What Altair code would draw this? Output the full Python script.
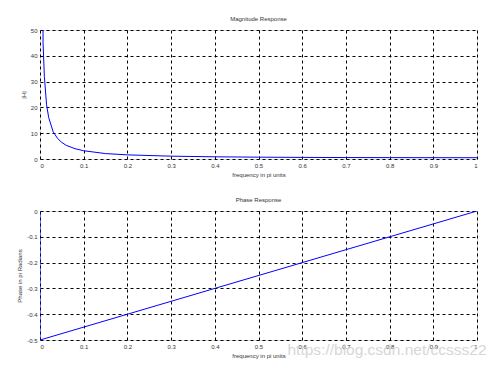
import altair as alt
import pandas as pd

# Magnitude response (frequency in pi units, |H|)
mag_freq = [0.007, 0.007, 0.01, 0.015, 0.02, 0.03, 0.04, 0.05, 0.06, 0.08, 0.1, 0.15,
            0.2, 0.3, 0.4, 0.5, 0.6, 0.7, 0.8, 0.9, 1.0]
mag_vals = [60, 45, 32, 21, 16, 10.6, 8.0, 6.4, 5.3, 4.0, 3.2, 2.1,
            1.6, 1.1, 0.85, 0.71, 0.62, 0.56, 0.53, 0.51, 0.5]

# Phase response (frequency in pi units, phase in pi radians)
phase_freq = [0.0, 0.0, 1.0]
phase_vals = [0.0, -0.5, 0.0]

x_ticks = [0, 0.1, 0.2, 0.3, 0.4, 0.5, 0.6, 0.7, 0.8, 0.9, 1]
mag_ticks = [0, 10, 20, 30, 40, 50]
phase_ticks = [0, -0.1, -0.2, -0.3, -0.4, -0.5]

watermark = "https://blog.csdn.net/ccsss22"

W, H = 437, 129
FONT = "Liberation Sans"
LBL = "replace(format(datum.value, '~g'), '\u2212', '-')"

def mk_axis(values, title, title_pad):
    return alt.Axis(values=values, grid=True, gridDash=[3, 3], gridColor="black",
                    gridOpacity=1, gridWidth=1, domain=False, ticks=False,
                    labelFontSize=6, labelColor="#333333", labelExpr=LBL,
                    labelPadding=3, labelFont=FONT,
                    title=title, titleFontSize=6, titleFontWeight="normal",
                    titleColor="#333333", titleFont=FONT, titlePadding=title_pad)

mag_df = pd.DataFrame({"f": mag_freq, "m": mag_vals})
ph_df = pd.DataFrame({"f": phase_freq, "p": phase_vals}).reset_index()

top = alt.Chart(mag_df).mark_line(color="#0000ff", strokeWidth=1, clip=True).encode(
    x=alt.X("f:Q", scale=alt.Scale(domain=[0, 1], nice=False),
            axis=mk_axis(x_ticks, "frequency in pi units", 3)),
    y=alt.Y("m:Q", scale=alt.Scale(domain=[0, 50], nice=False),
            axis=mk_axis(mag_ticks, "|H|", 4)),
    order=alt.Order("f:Q"),
).properties(width=W, height=H,
             title=alt.TitleParams("Magnitude Response", fontSize=6, fontWeight="normal",
                                   color="#333333", font=FONT, offset=5))

bottom_line = alt.Chart(ph_df).mark_line(color="#0000ff", strokeWidth=1, clip=True).encode(
    x=alt.X("f:Q", scale=alt.Scale(domain=[0, 1], nice=False),
            axis=mk_axis(x_ticks, "frequency in pi units", 3)),
    y=alt.Y("p:Q", scale=alt.Scale(domain=[-0.5, 0], nice=False),
            axis=mk_axis(phase_ticks, "Phase in pi Radians", 4)),
    order=alt.Order("index:Q"),
)

wm = alt.Chart(pd.DataFrame({"t": [watermark]})).mark_text(
    fontSize=15.5, color="#d0d0d0", opacity=0.85, font=FONT, align="center", baseline="middle"
).encode(text="t:N", x=alt.value(347), y=alt.value(139))

bottom = alt.layer(bottom_line, wm).properties(
    width=W, height=H,
    title=alt.TitleParams("Phase Response", fontSize=6, fontWeight="normal",
                          color="#333333", font=FONT, offset=5))

chart = alt.vconcat(top, bottom, spacing=52, bounds="flush").properties(
    padding={"left": 8, "top": 7, "right": 0, "bottom": 0},
).configure_view(stroke="black", strokeWidth=1).configure(background="white", font=FONT)

chart.save("out.html", embed_options={"renderer": "svg", "actions": False})
